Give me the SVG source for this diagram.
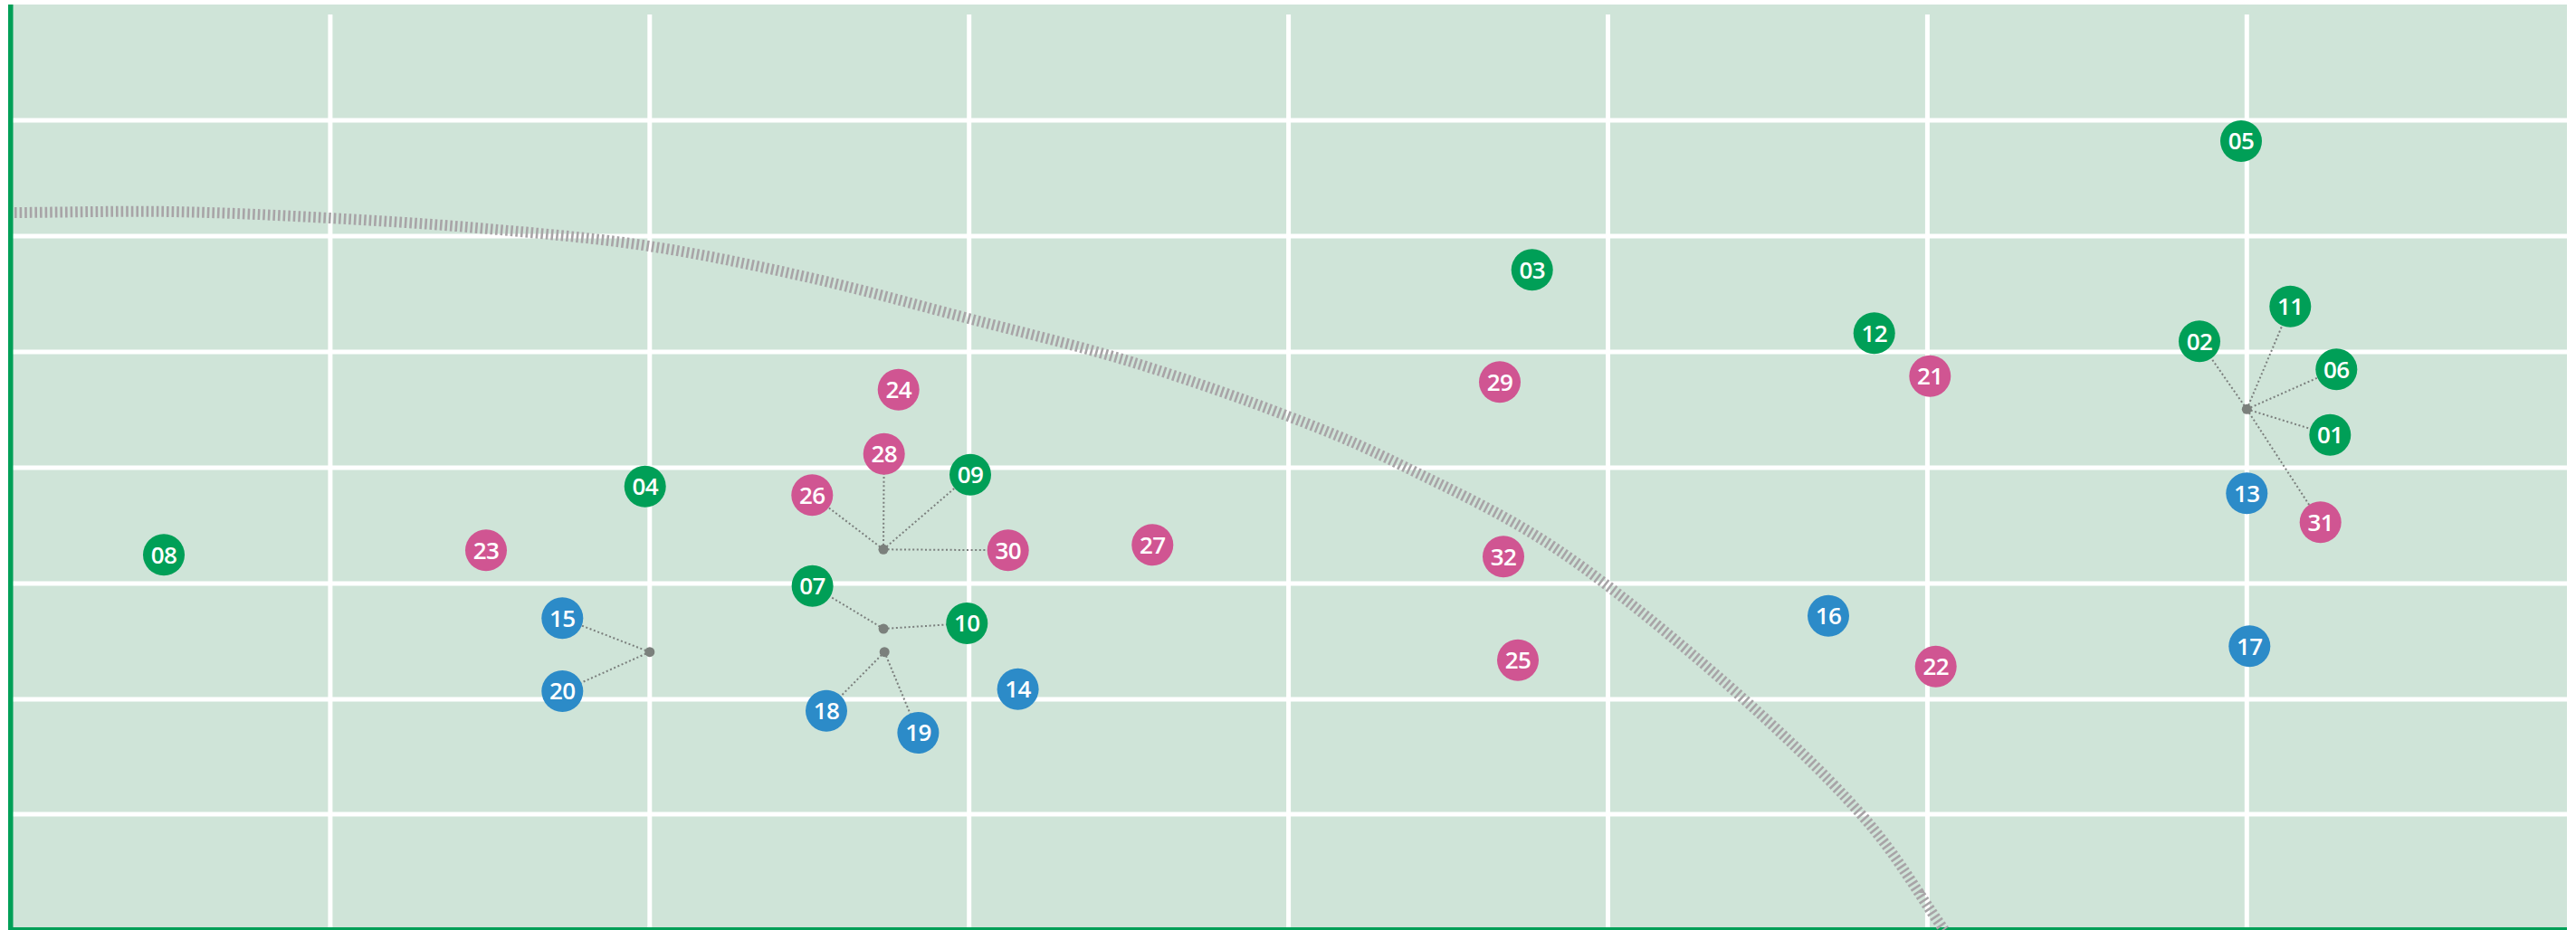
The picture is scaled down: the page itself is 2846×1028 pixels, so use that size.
<svg xmlns="http://www.w3.org/2000/svg" width="2846" height="1028" viewBox="0 0 2846 1028">
<style>
.bg{fill:#cfe4d8}
.grid line{stroke:#ffffff;stroke-width:5}
.axis{fill:#009f57}
.curve{fill:none;stroke:#a8a4a7;stroke-width:12;stroke-dasharray:2.6 3}
.conn line{stroke:#7b7f7d;stroke-width:2;stroke-dasharray:2 2.6}
.hub{fill:#7b807c}
.g circle{fill:#009f57}
.p circle{fill:#d05592}
.b circle{fill:#2c8bc8}
.node text{fill:#ffffff;font-family:"Open Sans","Noto Sans",sans-serif;font-weight:600;font-size:26px;letter-spacing:-0.6px;text-anchor:middle}
</style>
<rect width="2846" height="1028" fill="#ffffff"/>
<rect class="bg" x="9" y="5" width="2827" height="1023"/>
<g class="grid">
<line x1="364.9" y1="16" x2="364.9" y2="1026"/>
<line x1="717.8" y1="16" x2="717.8" y2="1026"/>
<line x1="1070.7" y1="16" x2="1070.7" y2="1026"/>
<line x1="1423.6" y1="16" x2="1423.6" y2="1026"/>
<line x1="1776.5" y1="16" x2="1776.5" y2="1026"/>
<line x1="2129.4" y1="16" x2="2129.4" y2="1026"/>
<line x1="2482.3" y1="16" x2="2482.3" y2="1026"/>
<line x1="14" y1="133" x2="2836" y2="133"/>
<line x1="14" y1="261" x2="2836" y2="261"/>
<line x1="14" y1="389" x2="2836" y2="389"/>
<line x1="14" y1="517" x2="2836" y2="517"/>
<line x1="14" y1="645" x2="2836" y2="645"/>
<line x1="14" y1="773" x2="2836" y2="773"/>
<line x1="14" y1="900" x2="2836" y2="900"/>
</g>
<rect class="axis" x="9" y="5" width="5.5" height="1023"/>
<rect class="axis" x="9" y="1025" width="2827" height="3"/>
<path class="curve" d="M16,235 C74,234.7 132,233 190,234 C248,235 305.7,237.8 364,241 C422.3,244.2 481.2,247.8 540,253 C598.8,258.2 657.8,263 717,272 C776.2,281 836.2,293.7 895,307 C953.8,320.3 1010.8,336.5 1070,352 C1129.2,367.5 1191.2,382 1250,400 C1308.8,418 1373,440.8 1423,460 C1473,479.2 1500.5,490.5 1550,515 C1599.5,539.5 1661.2,567.5 1720,607 C1778.8,646.5 1847,703.2 1903,752 C1959,800.8 2015.2,854 2056,900 C2096.8,946 2117.3,985.3 2148,1028"/>
<g id="connectors" class="conn">
<line x1="717.8" y1="720.7" x2="621.3" y2="683.3"/>
<line x1="717.8" y1="720.7" x2="621.3" y2="764"/>
<line x1="976" y1="607.3" x2="897.3" y2="547.3"/>
<line x1="976" y1="607.3" x2="976.7" y2="501.7"/>
<line x1="976" y1="607.3" x2="1072" y2="524.7"/>
<line x1="976" y1="607.3" x2="1113.7" y2="608.3"/>
<line x1="976.1" y1="695" x2="897.6" y2="647.7"/>
<line x1="976.1" y1="695" x2="1068.3" y2="689"/>
<line x1="977.2" y1="720.7" x2="913" y2="785.7"/>
<line x1="977.2" y1="720.7" x2="1014.4" y2="810"/>
<line x1="2482.3" y1="452.3" x2="2430" y2="377.3"/>
<line x1="2482.3" y1="452.3" x2="2530.3" y2="338.7"/>
<line x1="2482.3" y1="452.3" x2="2581.3" y2="408.3"/>
<line x1="2482.3" y1="452.3" x2="2574.3" y2="480.7"/>
<line x1="2482.3" y1="452.3" x2="2563.7" y2="577.3"/>
<circle class="hub" cx="717.8" cy="720.7" r="5.5"/>
<circle class="hub" cx="976" cy="607.3" r="5.5"/>
<circle class="hub" cx="976.1" cy="695" r="5.5"/>
<circle class="hub" cx="977.2" cy="720.7" r="5.5"/>
<circle class="hub" cx="2482.3" cy="452.3" r="5.5"/>
</g>
<g id="n01" class="node g"><circle cx="2574.3" cy="480.7" r="23"/><text x="2574.3" y="490">01</text></g>
<g id="n02" class="node g"><circle cx="2430" cy="377.3" r="23"/><text x="2430" y="386.6">02</text></g>
<g id="n03" class="node g"><circle cx="1692.7" cy="298.3" r="23"/><text x="1692.7" y="307.6">03</text></g>
<g id="n04" class="node g"><circle cx="712.7" cy="537.7" r="23"/><text x="712.7" y="547">04</text></g>
<g id="n05" class="node g"><circle cx="2476" cy="156" r="23"/><text x="2476" y="165.3">05</text></g>
<g id="n06" class="node g"><circle cx="2581.3" cy="408.3" r="23"/><text x="2581.3" y="417.6">06</text></g>
<g id="n07" class="node g"><circle cx="897.6" cy="647.7" r="23"/><text x="897.6" y="657">07</text></g>
<g id="n08" class="node g"><circle cx="181" cy="613.3" r="23"/><text x="181" y="622.6">08</text></g>
<g id="n09" class="node g"><circle cx="1072" cy="524.7" r="23"/><text x="1072" y="534">09</text></g>
<g id="n10" class="node g"><circle cx="1068.3" cy="689" r="23"/><text x="1068.3" y="698.3">10</text></g>
<g id="n11" class="node g"><circle cx="2530.3" cy="338.7" r="23"/><text x="2530.3" y="348">11</text></g>
<g id="n12" class="node g"><circle cx="2070.7" cy="368.3" r="23"/><text x="2070.7" y="377.6">12</text></g>
<g id="n13" class="node b"><circle cx="2482.3" cy="545.3" r="23"/><text x="2482.3" y="554.6">13</text></g>
<g id="n14" class="node b"><circle cx="1124.6" cy="761.7" r="23"/><text x="1124.6" y="771">14</text></g>
<g id="n15" class="node b"><circle cx="621.3" cy="683.3" r="23"/><text x="621.3" y="692.6">15</text></g>
<g id="n16" class="node b"><circle cx="2020" cy="680.7" r="23"/><text x="2020" y="690">16</text></g>
<g id="n17" class="node b"><circle cx="2485.3" cy="714.3" r="23"/><text x="2485.3" y="723.6">17</text></g>
<g id="n18" class="node b"><circle cx="913" cy="785.7" r="23"/><text x="913" y="795">18</text></g>
<g id="n19" class="node b"><circle cx="1014.4" cy="810" r="23"/><text x="1014.4" y="819.3">19</text></g>
<g id="n20" class="node b"><circle cx="621.3" cy="764" r="23"/><text x="621.3" y="773.3">20</text></g>
<g id="n21" class="node p"><circle cx="2132.3" cy="415.7" r="23"/><text x="2132.3" y="425">21</text></g>
<g id="n22" class="node p"><circle cx="2138.7" cy="736.7" r="23"/><text x="2138.7" y="746">22</text></g>
<g id="n23" class="node p"><circle cx="537" cy="608.3" r="23"/><text x="537" y="617.6">23</text></g>
<g id="n24" class="node p"><circle cx="992.7" cy="430.7" r="23"/><text x="992.7" y="440">24</text></g>
<g id="n25" class="node p"><circle cx="1677" cy="729.7" r="23"/><text x="1677" y="739">25</text></g>
<g id="n26" class="node p"><circle cx="897.3" cy="547.3" r="23"/><text x="897.3" y="556.6">26</text></g>
<g id="n27" class="node p"><circle cx="1273.3" cy="602.3" r="23"/><text x="1273.3" y="611.6">27</text></g>
<g id="n28" class="node p"><circle cx="976.7" cy="501.7" r="23"/><text x="976.7" y="511">28</text></g>
<g id="n29" class="node p"><circle cx="1657" cy="422.3" r="23"/><text x="1657" y="431.6">29</text></g>
<g id="n30" class="node p"><circle cx="1113.7" cy="608.3" r="23"/><text x="1113.7" y="617.6">30</text></g>
<g id="n31" class="node p"><circle cx="2563.7" cy="577.3" r="23"/><text x="2563.7" y="586.6">31</text></g>
<g id="n32" class="node p"><circle cx="1661" cy="615.3" r="23"/><text x="1661" y="624.6">32</text></g>
</svg>
